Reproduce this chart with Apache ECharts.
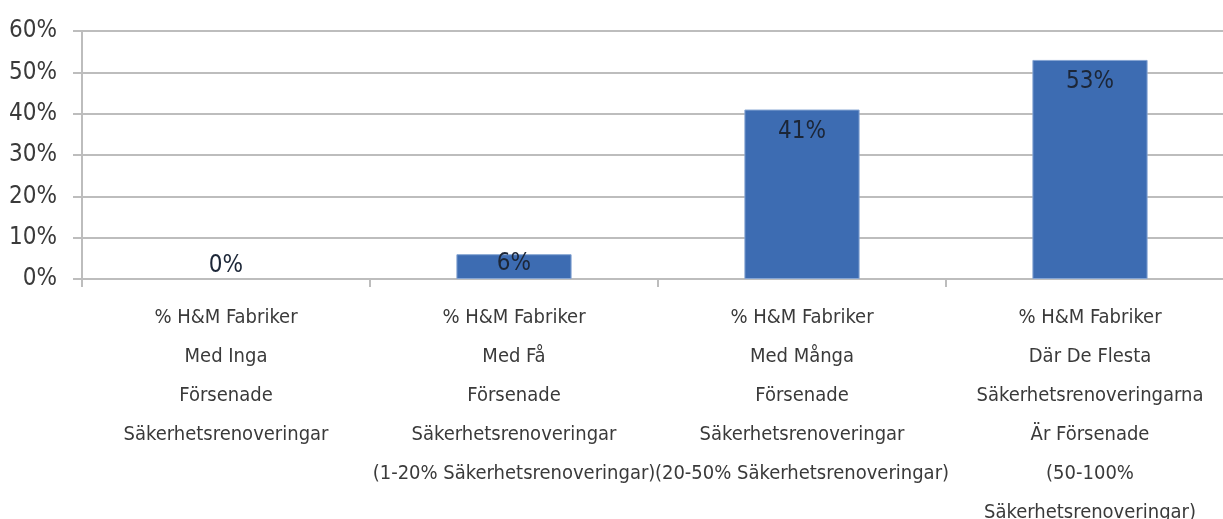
<!DOCTYPE html>
<html>
<head>
<meta charset="utf-8">
<script src="https://cdn.jsdelivr.net/npm/echarts@6/dist/echarts.min.js"></script>
<style>
  html, body { margin: 0; padding: 0; background: #fff; }
  #chart { width: 1223px; height: 519px; }
</style>
</head>
<body>
<div id="chart"></div>
<script>
// andel fabriker per grupp, i procent
var categories = [
    "% H&M Fabriker\nMed Inga\nFörsenade\nSäkerhetsrenoveringar",
    "% H&M Fabriker\nMed Få\nFörsenade\nSäkerhetsrenoveringar\n(1-20% Säkerhetsrenoveringar)",
    "% H&M Fabriker\nMed Många\nFörsenade\nSäkerhetsrenoveringar\n(20-50% Säkerhetsrenoveringar)",
    "% H&M Fabriker\nDär De Flesta\nSäkerhetsrenoveringarna\nÄr Försenade\n(50-100%\nSäkerhetsrenoveringar)"
];
var values = [0, 6, 41, 53];
var yTicks = [0, 10, 20, 30, 40, 50, 60];

var font = "'DejaVu Sans Condensed', 'Liberation Sans Narrow', sans-serif";

// label inne i stapeln, men ovanför axeln när stapeln är för låg
function labelFor(v) {
    if (v == 0) return { position: 'top', distance: 1 };
    if (v < 10) return { position: 'insideTop', distance: -2 };
    return { position: 'insideTop', distance: 10 };
}

var chart = echarts.init(document.getElementById("chart"));

var option = {
    animation: false,
    grid: {
        left: 82,
        right: -11,
        top: 31,
        bottom: 240,
        containLabel: false,
        outerBoundsMode: 'none'
    },
    xAxis: {
        type: 'category',
        data: categories,
        axisLine: { lineStyle: { color: '#bdbdbd', width: 2 } },
        axisTick: { show: true, length: 8, lineStyle: { color: '#bdbdbd', width: 2 } },
        axisLabel: {
            interval: 0,
            margin: 19,
            color: '#3a3a3a',
            fontFamily: font,
            fontSize: 20,
            lineHeight: 39,
            align: 'center'
        }
    },
    yAxis: {
        type: 'value',
        min: yTicks[0],
        max: yTicks[yTicks.length - 1],
        interval: 10,
        axisLine: { show: true, lineStyle: { color: '#bdbdbd', width: 2 } },
        axisTick: { show: true, length: 9, lineStyle: { color: '#bdbdbd', width: 2 } },
        splitLine: { lineStyle: { color: '#bdbdbd', width: 2 } },
        axisLabel: {
            formatter: '{value}%',
            margin: 25,
            color: '#3a3a3a',
            fontFamily: font,
            fontSize: 24
        }
    },
    series: [{
        type: 'bar',
        barWidth: '40%',
        data: values.map(function (v) {
            return {
                value: v,
                label: labelFor(v),
                itemStyle: v == 0 ? { borderWidth: 0 } : {}
            };
        }),
        itemStyle: {
            color: '#3d6cb2',
            borderColor: '#86a5d3',
            borderWidth: 1
        },
        label: {
            show: true,
            formatter: '{c}%',
            color: '#1c2637',
            fontFamily: font,
            fontSize: 24
        }
    }]
};

chart.setOption(option);
</script>
</body>
</html>
